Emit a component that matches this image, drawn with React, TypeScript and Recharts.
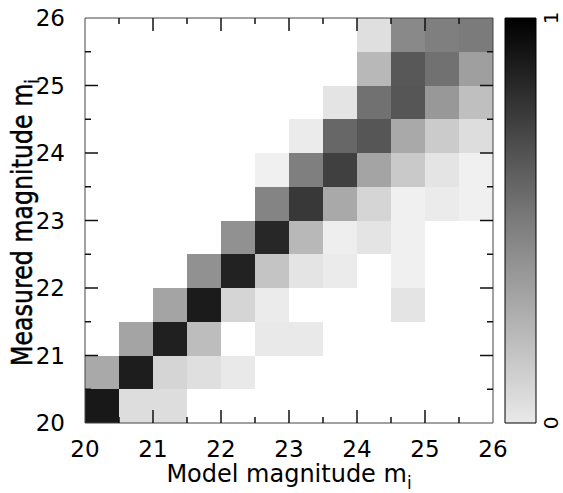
import { ComposedChart, BarChart, Bar, Scatter, XAxis, YAxis, ReferenceArea } from "recharts";

// bin edges (magnitudes), shared by both axes
const binEdges = [20, 20.5, 21, 21.5, 22, 22.5, 23, 23.5, 24, 24.5, 25, 25.5, 26];
const axisTicks = [20, 20.5, 21, 21.5, 22, 22.5, 23, 23.5, 24, 24.5, 25, 25.5, 26];
const scaleTicks = [0, 1];

// fraction per model-magnitude bin (columns 20 .. 25.5), one array per measured bin
const row20_0 = [0.9, 0.1, 0.1, 0, 0, 0, 0, 0, 0, 0, 0, 0];
const row20_5 = [0.31, 0.88, 0.13, 0.09, 0.05, 0, 0, 0, 0, 0, 0, 0];
const row21_0 = [0, 0.33, 0.87, 0.23, 0, 0.05, 0.05, 0, 0, 0, 0, 0];
const row21_5 = [0, 0, 0.33, 0.89, 0.13, 0.04, 0, 0, 0, 0.07, 0, 0];
const row22_0 = [0, 0, 0, 0.41, 0.86, 0.2, 0.07, 0.04, 0, 0.02, 0, 0];
const row22_5 = [0, 0, 0, 0, 0.41, 0.84, 0.25, 0.03, 0.07, 0.02, 0, 0];
const row23_0 = [0, 0, 0, 0, 0, 0.46, 0.77, 0.31, 0.13, 0.02, 0.04, 0.02];
const row23_5 = [0, 0, 0, 0, 0, 0.02, 0.48, 0.74, 0.33, 0.18, 0.07, 0.02];
const row24_0 = [0, 0, 0, 0, 0, 0, 0.04, 0.58, 0.65, 0.31, 0.17, 0.1];
const row24_5 = [0, 0, 0, 0, 0, 0, 0, 0.07, 0.54, 0.65, 0.38, 0.22];
const row25_0 = [0, 0, 0, 0, 0, 0, 0, 0, 0.25, 0.64, 0.54, 0.35];
const row25_5 = [0, 0, 0, 0, 0, 0, 0, 0, 0.09, 0.44, 0.48, 0.5];

const rows = [
  row20_0, row20_5, row21_0, row21_5, row22_0, row22_5,
  row23_0, row23_5, row24_0, row24_5, row25_0, row25_5,
];

const shade = (v: number) => {
  const g = Math.round(245 * (1 - v));
  return `rgb(${g},${g},${g})`;
};

const cells = rows.flatMap((row, j) =>
  row
    .map((v, i) => ({
      x1: binEdges[i],
      x2: binEdges[i + 1],
      y1: binEdges[j],
      y2: binEdges[j + 1],
      xc: (binEdges[i] + binEdges[i + 1]) / 2,
      yc: (binEdges[j] + binEdges[j + 1]) / 2,
      v,
    }))
    .filter((c) => c.v > 0)
);

// layout
const W = 563;
const H = 493;
const M = { top: 18, right: 70, bottom: 0, left: 0 };
const Y_AXIS_W = 85;
const X_AXIS_H = 70;
const PLOT_TOP = M.top;
const PLOT_RIGHT = W - M.right;

const FONT = "DejaVu Sans";
const MAJOR = 13;
const MINOR = 6;
const isMajor = (v: number) => Number.isInteger(v);
const isEdge = (v: number) => v === 20 || v === 26;
const len = (v: number) => (isMajor(v) ? MAJOR : MINOR);

function XLabel({ x, y, payload }: any) {
  const v = payload.value;
  if (!isMajor(v)) return <g />;
  return (
    <text x={x} y={y + 34} textAnchor="middle" fontSize={23} fontFamily={FONT} fill="#000">
      {v}
    </text>
  );
}

function YLabel({ x, y, payload }: any) {
  const v = payload.value;
  if (!isMajor(v)) return <g />;
  return (
    <text x={x - 20} y={y + 8} textAnchor="end" fontSize={23} fontFamily={FONT} fill="#000">
      {v}
    </text>
  );
}

// inward tick marks on the bottom and top edge
function XMarks({ x, y, payload }: any) {
  const v = payload.value;
  if (isEdge(v)) return <g />;
  return (
    <g>
      <line x1={x} x2={x} y1={y} y2={y - len(v)} stroke="#111" strokeWidth={1.5} />
      <line x1={x} x2={x} y1={PLOT_TOP} y2={PLOT_TOP + len(v)} stroke="#111" strokeWidth={1.5} />
    </g>
  );
}

// inward tick marks on the left and right edge
function YMarks({ x, y, payload }: any) {
  const v = payload.value;
  if (isEdge(v)) return <g />;
  return (
    <g>
      <line x1={x} x2={x + len(v)} y1={y} y2={y} stroke="#111" strokeWidth={1.5} />
      <line x1={PLOT_RIGHT} x2={PLOT_RIGHT - len(v)} y1={y} y2={y} stroke="#111" strokeWidth={1.5} />
    </g>
  );
}

function ScaleTick({ x, y, payload }: any) {
  return (
    <text
      transform={`translate(${x + 22},${y}) rotate(-90)`}
      textAnchor="middle"
      fontSize={20}
      fontFamily={FONT}
      fill="#000"
    >
      {payload.value}
    </text>
  );
}

function XTitle({ viewBox }: any) {
  const cx = viewBox.x + viewBox.width / 2;
  return (
    <text x={cx} y={viewBox.y + 59} textAnchor="middle" fontSize={24} fontFamily={FONT} fill="#000">
      Model magnitude m
      <tspan dy={7} fontSize={17}>i</tspan>
    </text>
  );
}

function YTitle({ viewBox }: any) {
  const cy = viewBox.y + viewBox.height / 2;
  return (
    <text
      transform={`translate(32,${cy + 2}) rotate(-90)`}
      textAnchor="middle"
      fontSize={28}
      fontFamily={FONT}
      fill="#000"
      stroke="#000"
      strokeWidth={0.5}
      textLength={287}
      lengthAdjust="spacingAndGlyphs"
    >
      Measured magnitude m
      <tspan dy={7} fontSize={20}>i</tspan>
    </text>
  );
}

const axisCommon = {
  type: "number" as const,
  domain: [20, 26],
  ticks: axisTicks,
  interval: 0,
  tickSize: 0,
  tickMargin: 0,
  tickLine: false,
  axisLine: false,
  allowDataOverflow: true,
};

export default function App() {
  return (
    <div style={{ position: "absolute", left: 0, top: 0, width: W, height: H, background: "#fff" }}>
      {/* heat map cells, tick labels, titles */}
      <div style={{ position: "absolute", left: 0, top: 0 }}>
        <ComposedChart width={W} height={H} data={cells} margin={M}>
          {cells.map((c, k) => (
            <ReferenceArea
              key={k}
              x1={c.x1}
              x2={c.x2}
              y1={c.y1}
              y2={c.y2}
              fill={shade(c.v)}
              fillOpacity={1}
              stroke="none"
              shapeRendering="crispEdges"
            />
          ))}
          <Scatter dataKey="yc" isAnimationActive={false} shape={() => <g />} legendType="none" />
          <XAxis
            {...axisCommon}
            dataKey="xc"
            height={X_AXIS_H}
            tick={<XLabel />}
            label={{ content: <XTitle /> }}
          />
          <YAxis
            {...axisCommon}
            dataKey="yc"
            width={Y_AXIS_W}
            tick={<YLabel />}
            label={{ content: <YTitle /> }}
          />
        </ComposedChart>
      </div>

      {/* frame and tick marks, layered over the cells */}
      <div style={{ position: "absolute", left: 0, top: 0 }}>
        <ComposedChart width={W} height={H} data={cells} margin={M}>
          <ReferenceArea x1={20} x2={26} y1={20} y2={26} fill="none" stroke="#444" strokeWidth={1} />
          <Scatter dataKey="yc" isAnimationActive={false} shape={() => <g />} legendType="none" />
          <XAxis {...axisCommon} dataKey="xc" height={X_AXIS_H} tick={<XMarks />} />
          <YAxis {...axisCommon} dataKey="yc" width={Y_AXIS_W} tick={<YMarks />} />
        </ComposedChart>
      </div>

      {/* colour scale */}
      <div style={{ position: "absolute", left: 490, top: 0 }}>
        <BarChart
          width={73}
          height={H}
          data={[{ name: "scale", top: 1 }]}
          margin={{ top: 18, right: 0, bottom: X_AXIS_H, left: 15 }}
          barCategoryGap={0}
        >
          <defs>
            <linearGradient id="cbar" x1="0" y1="0" x2="0" y2="1">
              <stop offset="0%" stopColor={shade(1)} />
              <stop offset="50%" stopColor={shade(0.5)} />
              <stop offset="100%" stopColor={shade(0.05)} />
            </linearGradient>
          </defs>
          <XAxis dataKey="name" hide />
          <YAxis
            orientation="right"
            type="number"
            domain={[0, 1]}
            ticks={scaleTicks}
            width={27}
            tickSize={0}
            tickMargin={0}
            tickLine={false}
            axisLine={false}
            tick={<ScaleTick />}
          />
          <Bar dataKey="top" fill="url(#cbar)" stroke="#000" strokeWidth={1} isAnimationActive={false} />
        </BarChart>
      </div>
    </div>
  );
}
